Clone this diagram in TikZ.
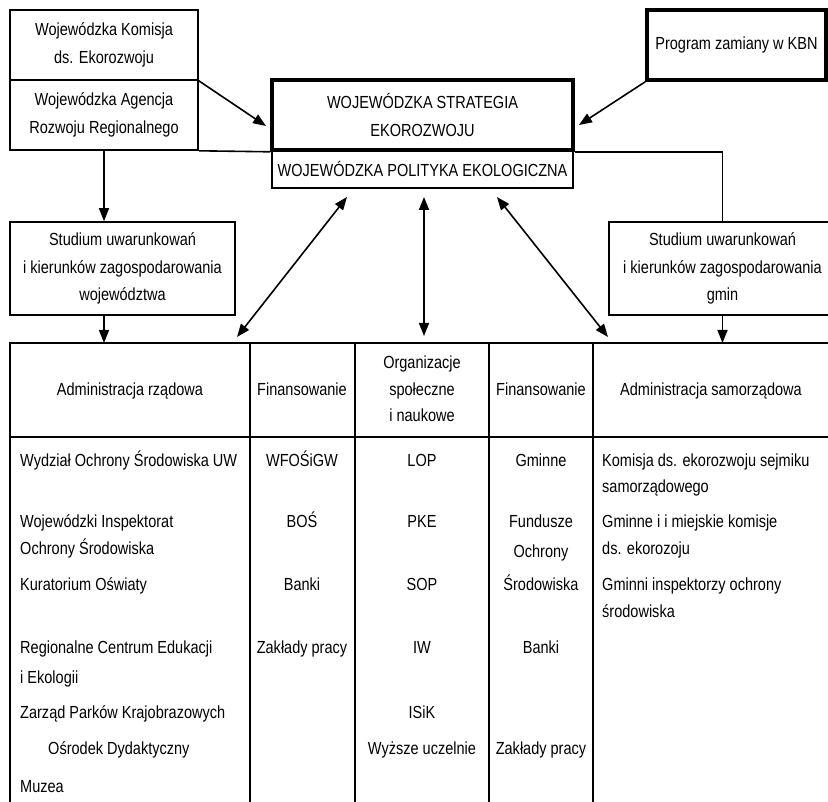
\documentclass[tikz,border=0pt]{standalone}
\usepackage{fontspec}
\setmainfont[FakeStretch=0.83]{Liberation Sans}
\usetikzlibrary{arrows.meta}
\begin{document}
\begin{tikzpicture}[x=1pt,y=-1pt,
  txt/.style={font=\fontsize{17.5}{27.5}\selectfont, inner sep=0pt, anchor=base},
  ltxt/.style={txt, anchor=base west},
  box/.style={draw, line width=1.6pt, inner sep=0pt, align=center, font=\fontsize{17.5}{27.5}\selectfont},
  thickbox/.style={box, line width=3.6pt},
  ln/.style={line width=1.6pt},
  arr/.style={ln, -{Triangle[length=13pt,width=10pt]}},
  darr/.style={ln, {Triangle[length=13pt,width=10pt]}-{Triangle[length=13pt,width=10pt]}}]
\useasboundingbox (0,0) rectangle (828,802);
% top boxes
\node[box, minimum width=188pt, minimum height=70pt] (kom) at (104,45) {Wojewódzka Komisja\\ds. Ekorozwoju};
\node[box, minimum width=188pt, minimum height=70pt] (agen) at (104,115) {Wojewódzka Agencja\\Rozwoju Regionalnego};
\node[box, minimum width=301pt, minimum height=38pt] (pol) at (422.5,169) {WOJEWÓDZKA POLITYKA EKOLOGICZNA};
\node[thickbox, minimum width=301pt, minimum height=70pt] (strat) at (422.5,115) {WOJEWÓDZKA STRATEGIA\\EKOROZWOJU};
\node[thickbox, minimum width=179pt, minimum height=70pt] (prog) at (736.5,45) {Program zamiany w KBN};
\node[box, minimum width=225pt, minimum height=93pt] (stl) at (122.5,268.5) {Studium uwarunkowań\\i kierunków zagospodarowania\\województwa};
\node[box, minimum width=227pt, minimum height=93pt] (str) at (722.5,268.5) {Studium uwarunkowań\\i kierunków zagospodarowania\\gmin};
% connectors
\coordinate (t1) at (266,126);
\coordinate (t2) at (579,125);
\coordinate (TL) at (10,343);
\draw[arr] (kom.south east) -- (t1);
\draw[arr] (prog.south west) -- (t2);
\draw[ln] (agen.south east) -- (strat.south west);
\draw[ln] (strat.south east) -| (str.north);
\draw[arr] (agen.south) -- (agen.south |- stl.north);
\draw[arr] (agen.south |- stl.south) -- (agen.south |- TL);
\draw[arr] (str.south) -- (str.south |- TL);
\coordinate (p1) at (347,197); \coordinate (q1) at (237,337);
\coordinate (p2) at (424,197); \coordinate (q2) at (424,336);
\coordinate (p3) at (497,197); \coordinate (q3) at (608,337);
\draw[darr] (p1) -- (q1);
\draw[darr] (p2) -- (q2);
\draw[darr] (p3) -- (q3);
% table
\draw[ln] (828,343) -- (TL) -- (10,802);
\draw[ln] (10,437) -- (828,437);
\foreach \x in {250,355,489,593} \draw[ln] (\x,343) -- (\x,802);
% header
\node[txt] (h1) at (130,396) {Administracja rządowa};
\node[txt] (h2) at (302,396) {Finansowanie};
\node[txt] (h3a) at (422,369) {Organizacje};
\node[txt] (h3b) at (422,396) {społeczne};
\node[txt] (h3c) at (422,422) {i naukowe};
\node[txt] (h4) at (541,396) {Finansowanie};
\node[txt] (h5) at (711,396) {Administracja samorządowa};
% column 1
\node[ltxt] (a1) at (20,466) {Wydział Ochrony Środowiska UW};
\node[ltxt] (a2) at (20,527) {Wojewódzki Inspektorat};
\node[ltxt] (a2b) at (20,554) {Ochrony Środowiska};
\node[ltxt] (a3) at (20,590) {Kuratorium Oświaty};
\node[ltxt] (a4) at (20,653) {Regionalne Centrum Edukacji};
\node[ltxt] (a4b) at (20,683) {i Ekologii};
\node[ltxt] (a5) at (20,718) {Zarząd Parków Krajobrazowych};
\node[ltxt] (a6) at (48,754) {Ośrodek Dydaktyczny};
\node[ltxt] (a7) at (20,792) {Muzea};
% column 2
\node[txt] (b1) at (302,466) {WFOŚiGW};
\node[txt] (b2) at (302,527) {BOŚ};
\node[txt] (b3) at (302,590) {Banki};
\node[txt] (b4) at (302,653) {Zakłady pracy};
% column 3
\node[txt] (c1) at (422,466) {LOP};
\node[txt] (c2) at (422,527) {PKE};
\node[txt] (c3) at (422,590) {SOP};
\node[txt] (c4) at (422,653) {IW};
\node[txt] (c5) at (422,718) {ISiK};
\node[txt] (c6) at (422,754) {Wyższe uczelnie};
% column 4
\node[txt] (d1) at (541,466) {Gminne};
\node[txt] (d2) at (541,527) {Fundusze};
\node[txt] (d2b) at (541,557) {Ochrony};
\node[txt] (d2c) at (541,590) {Środowiska};
\node[txt] (d4) at (541,653) {Banki};
\node[txt] (d6) at (541,754) {Zakłady pracy};
% column 5
\node[ltxt] (e1) at (602,466) {Komisja ds. ekorozwoju sejmiku};
\node[ltxt] (e1b) at (602,492) {samorządowego};
\node[ltxt] (e2) at (602,527) {Gminne i i miejskie komisje};
\node[ltxt] (e2b) at (602,554) {ds. ekorozoju};
\node[ltxt] (e3) at (602,590) {Gminni inspektorzy ochrony};
\node[ltxt] (e3b) at (602,617) {środowiska};
\end{tikzpicture}
\end{document}
